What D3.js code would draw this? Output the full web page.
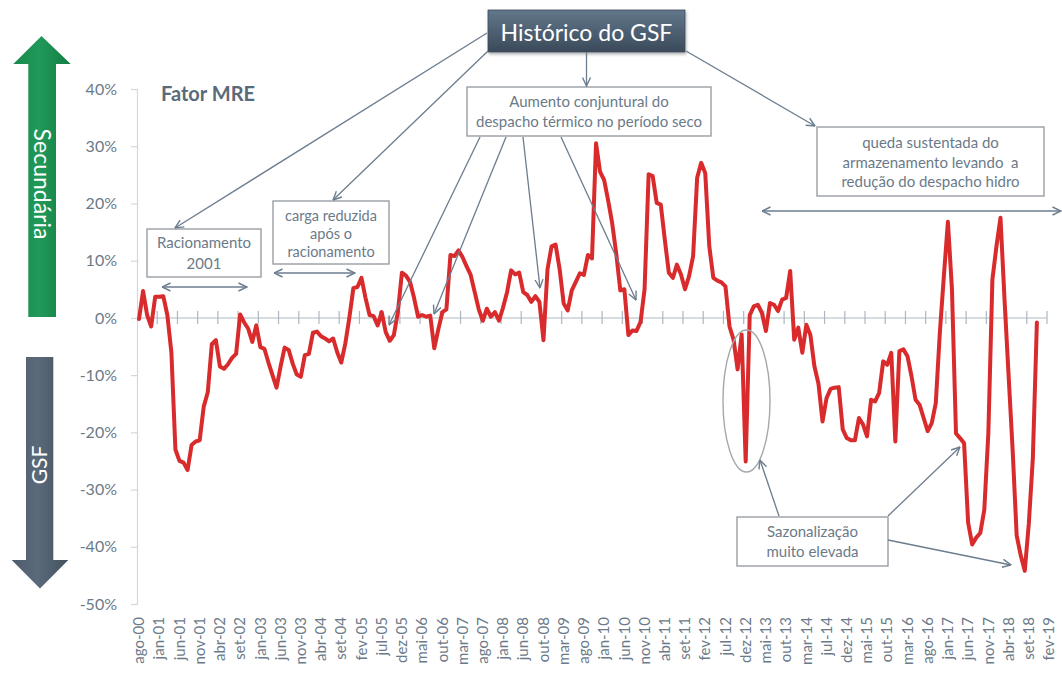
<!DOCTYPE html>
<html>
<head>
<meta charset="utf-8">
<script src="https://cdn.jsdelivr.net/npm/d3@7"></script>
<style>
  html, body { margin: 0; padding: 0; background: #fff; }
  svg { display: block; font-family: Lato, "Open Sans", sans-serif; }
</style>
</head>
<body>
<svg id="chart" width="1062" height="673"></svg>
<script>
// Category tick labels (one every five points)
const tickLabels = ["ago-00","jan-01","jun-01","nov-01","abr-02","set-02","jan-03","jun-03","nov-03","abr-04",
  "set-04","fev-05","jul-05","dez-05","mai-06","out-06","mar-07","ago-07","jan-08","jun-08",
  "out-08","mar-09","ago-09","jan-10","jun-10","nov-10","abr-11","set-11","fev-12","jul-12",
  "dez-12","mai-13","out-13","mar-14","jul-14","dez-14","mai-15","out-15","mar-16","ago-16",
  "jan-17","jun-17","nov-17","abr-18","set-18","fev-19"];

// Y axis ticks (%)
const yTicks = [40, 30, 20, 10, 0, -10, -20, -30, -40, -50];

// Fator MRE, monthly (%)
const fatorMRE = [
  -0.2, 4.7, 0.5, -1.5, 3.7, 3.7, 3.8, 0.5, -6.0, -23.0,
  -25.0, -25.3, -26.6, -22.2, -21.6, -21.4, -15.5, -13.0, -4.6, -3.9,
  -8.5, -8.9, -8.1, -7.0, -6.3, 0.6, -0.8, -1.9, -4.2, -1.3,
  -5.1, -5.4, -7.8, -10.0, -12.2, -8.5, -5.2, -5.6, -8.0, -9.9,
  -10.3, -6.5, -6.3, -2.6, -2.4, -3.2, -3.6, -4.1, -3.6, -6.0,
  -7.8, -4.5, 0.0, 5.2, 5.4, 7.0, 3.5, 0.5, 0.3, -1.3,
  1.0, -2.5, -4.0, -3.0, 1.0, 7.9, 7.4, 6.3, 3.5, 0.2,
  0.5, 0.2, 0.4, -5.3, -2.0, 1.0, 1.5, 11.0, 10.8, 11.8,
  10.6, 9.0, 7.5, 4.5, 1.5, -0.5, 1.6, 0.2, 1.0, -0.5,
  1.8, 4.5, 8.3, 7.6, 7.9, 4.5, 4.0, 2.8, 3.8, 2.8,
  -3.9, 8.5, 12.5, 12.8, 8.5, 2.5, 1.3, 4.8, 6.3, 7.8,
  7.5, 11.0, 10.4, 30.5, 25.5, 24.1, 20.5, 16.5, 11.2, 4.8,
  5.0, -3.0, -2.2, -2.3, -0.7, 5.0, 25.1, 24.8, 20.1, 19.8,
  13.7, 7.9, 7.0, 9.3, 7.6, 5.0, 7.3, 10.8, 24.5, 27.1,
  25.3, 12.5, 7.0, 6.5, 6.2, 5.5, -1.5, -3.8, -9.0, -2.9,
  -25.1, 0.5, 2.0, 2.3, 0.9, -2.3, 2.6, 2.3, 1.2, 3.2,
  3.5, 8.2, -3.8, -1.7, -6.1, -1.2, -3.0, -8.5, -11.5, -18.1,
  -14.0, -12.4, -12.2, -12.1, -19.5, -21.0, -21.4, -21.4, -17.5, -18.6,
  -20.7, -14.3, -14.6, -13.1, -7.6, -8.2, -6.1, -21.6, -5.8, -5.5,
  -6.7, -10.2, -14.3, -15.2, -17.5, -19.8, -18.4, -14.9, -2.6, 7.3,
  16.8, 5.0, -20.2, -21.0, -21.9, -35.8, -39.6, -38.4, -37.6, -33.5,
  -20.1, 6.7, 12.5, 17.5, 3.2, -10.0, -23.0, -38.0, -41.5, -44.2,
  -36.0, -24.5, -0.8
];

const nCategories = 225;
const labelStep = 5;

const svg = d3.select("#chart");
const textColor = "#6b7a89";
const arrowColor = "#6c7d8e";

// ---------- defs ----------
const defs = svg.append("defs");

const gGreen = defs.append("linearGradient").attr("id", "gGreen").attr("x1", 0).attr("x2", 1).attr("y1", 0).attr("y2", 0);
gGreen.append("stop").attr("offset", "0%").attr("stop-color", "#178a49");
gGreen.append("stop").attr("offset", "45%").attr("stop-color", "#20995a");
gGreen.append("stop").attr("offset", "100%").attr("stop-color", "#137d41");

const gSlate = defs.append("linearGradient").attr("id", "gSlate").attr("x1", 0).attr("x2", 1).attr("y1", 0).attr("y2", 0);
gSlate.append("stop").attr("offset", "0%").attr("stop-color", "#4d5d6c");
gSlate.append("stop").attr("offset", "45%").attr("stop-color", "#5a6a7a");
gSlate.append("stop").attr("offset", "100%").attr("stop-color", "#44525f");

const gTitle = defs.append("linearGradient").attr("id", "gTitle").attr("x1", 0).attr("x2", 0).attr("y1", 0).attr("y2", 1);
gTitle.append("stop").attr("offset", "0%").attr("stop-color", "#62778b");
gTitle.append("stop").attr("offset", "100%").attr("stop-color", "#3a4a5a");

const shadow = defs.append("filter").attr("id", "shadow").attr("x", "-10%").attr("y", "-20%").attr("width", "130%").attr("height", "160%");
shadow.append("feDropShadow").attr("dx", 1).attr("dy", 2).attr("stdDeviation", 1.5).attr("flood-color", "#000").attr("flood-opacity", 0.3);

defs.append("marker")
  .attr("id", "openHead")
  .attr("viewBox", "0 0 10 10")
  .attr("refX", 9.5).attr("refY", 5)
  .attr("markerWidth", 10).attr("markerHeight", 10)
  .attr("markerUnits", "userSpaceOnUse")
  .attr("orient", "auto-start-reverse")
  .append("path")
  .attr("d", "M1,1 L9.5,5 L1,9")
  .attr("fill", "none")
  .attr("stroke", arrowColor)
  .attr("stroke-width", 1.4);

// ---------- scales ----------
const x = d3.scaleLinear().domain([-0.5, nCategories - 0.5]).range([137, 1047]);
const y = d3.scaleLinear().domain([-50, 40]).range([604, 89]);

// ---------- side arrows ----------
svg.append("path")
  .attr("d", "M41.5,36 L70.7,64 L56,64 L56,317 L28.3,317 L28.3,64 L13.3,64 Z")
  .attr("fill", "url(#gGreen)");
svg.append("text")
  .attr("transform", "translate(42,184) rotate(90)")
  .attr("text-anchor", "middle").attr("dy", "0.35em")
  .attr("fill", "#fff").attr("font-size", 23)
  .text("Secundária");

svg.append("path")
  .attr("d", "M26,357 L53.3,357 L53.3,560 L68.3,560 L40,588.5 L11.7,560 L26,560 Z")
  .attr("fill", "url(#gSlate)");
svg.append("text")
  .attr("transform", "translate(39.5,465) rotate(-90)")
  .attr("text-anchor", "middle").attr("dy", "0.35em")
  .attr("fill", "#fff").attr("font-size", 21)
  .text("GSF");

// ---------- y axis ----------
const yAxis = svg.append("g")
  .attr("transform", `translate(${x.range()[0]},0)`)
  .call(d3.axisLeft(y).tickValues(yTicks).tickSize(6).tickPadding(14).tickFormat(d => d + "%"));
yAxis.select(".domain").attr("stroke", "#d4d8dc").attr("stroke-width", 1.2);
yAxis.selectAll(".tick line").attr("stroke", "#d4d8dc").attr("stroke-width", 1.2);
yAxis.selectAll(".tick text")
  .attr("fill", textColor).attr("font-size", 16)
  .attr("font-family", "Lato, 'Open Sans', sans-serif");

// ---------- x axis (drawn on the 0% line) ----------
const xAxisG = svg.append("g");
xAxisG.append("line")
  .attr("x1", x.range()[0]).attr("x2", x.range()[1])
  .attr("y1", y(0)).attr("y2", y(0))
  .attr("stroke", "#c9d0d6").attr("stroke-width", 1.5);

const tickBounds = d3.range(1, tickLabels.length).map(k => k * labelStep - 0.5);
xAxisG.selectAll("line.xtick")
  .data(tickBounds)
  .join("line")
  .attr("class", "xtick")
  .attr("x1", d => x(d)).attr("x2", d => x(d))
  .attr("y1", y(0) - 7).attr("y2", y(0) + 6)
  .attr("stroke", "#aeb7c0").attr("stroke-width", 1.2);

svg.append("g").selectAll("text")
  .data(tickLabels)
  .join("text")
  .attr("transform", (d, k) => `translate(${x(k * labelStep)},617) rotate(-90)`)
  .attr("text-anchor", "end")
  .attr("dy", "0.35em")
  .attr("fill", textColor)
  .attr("font-size", 15)
  .text(d => d);

// ---------- series ----------
const line = d3.line()
  .x((d, i) => x(i))
  .y(d => y(d));

svg.append("path")
  .datum(fatorMRE)
  .attr("d", line)
  .attr("fill", "none")
  .attr("stroke", "#d92a2c")
  .attr("stroke-width", 4)
  .attr("stroke-linejoin", "round")
  .attr("stroke-linecap", "round");

// ---------- titles ----------
svg.append("text")
  .attr("x", 161).attr("y", 101)
  .attr("fill", "#5a6a7a")
  .attr("font-size", 20).attr("font-weight", "bold")
  .text("Fator MRE");

svg.append("rect")
  .attr("x", 488).attr("y", 10).attr("width", 197).attr("height", 42)
  .attr("fill", "url(#gTitle)")
  .attr("stroke", "#3d4c5b").attr("stroke-width", 0.8)
  .attr("filter", "url(#shadow)");
svg.append("text")
  .attr("x", 586.5).attr("y", 41)
  .attr("text-anchor", "middle")
  .attr("fill", "#fff").attr("font-size", 23)
  .text("Histórico do GSF");

// ---------- annotation boxes ----------
const boxes = [
  { x: 147, y: 229, w: 114, h: 48, lines: ["Racionamento", "2001"], y0: 248, dy: 21, fs: 15 },
  { x: 273, y: 201, w: 116, h: 63, lines: ["carga reduzida", "após o", "racionamento"], y0: 221, dy: 18, fs: 14.5 },
  { x: 467, y: 87, w: 244, h: 49, lines: ["Aumento conjuntural do", "despacho térmico no período seco"], y0: 106.5, dy: 20, fs: 15 },
  { x: 817, y: 127, w: 227, h: 69, lines: ["queda sustentada do", "armazenamento levando  a", "redução do despacho hidro"], y0: 148, dy: 19.5, fs: 15 },
  { x: 737, y: 517, w: 151, h: 49, lines: ["Sazonalização", "muito elevada"], y0: 536.5, dy: 20, fs: 15 }
];
const boxG = svg.append("g");
boxes.forEach(b => {
  boxG.append("rect")
    .attr("x", b.x).attr("y", b.y).attr("width", b.w).attr("height", b.h)
    .attr("fill", "#fff").attr("stroke", "#999fa5").attr("stroke-width", 1.4);
  boxG.append("text")
    .attr("text-anchor", "middle")
    .attr("fill", textColor)
    .attr("font-size", b.fs)
    .attr("xml:space", "preserve")
    .style("white-space", "pre")
    .selectAll("tspan")
    .data(b.lines)
    .join("tspan")
    .attr("x", b.x + b.w / 2)
    .attr("y", (d, i) => b.y0 + i * b.dy)
    .text(d => d);
});

// ellipse around the Dec-12 dip
svg.append("ellipse")
  .attr("cx", 746.5).attr("cy", 401).attr("rx", 23.5).attr("ry", 71)
  .attr("fill", "none").attr("stroke", "#a3a8ad").attr("stroke-width", 1.4);

// ---------- leader arrows ----------
const leaders = [
  [[487, 33], [175, 228]],
  [[488, 51], [333, 200]],
  [[586.5, 52], [586.5, 86]],
  [[686, 51], [815, 126]],
  [[480, 137], [389, 325]],
  [[506, 137], [434, 314]],
  [[523, 137], [540, 288]],
  [[561, 137], [636, 300]],
  [[779, 516], [760, 460]],
  [[888, 516], [960, 447]],
  [[888, 540], [1011, 565]]
];
svg.append("g").selectAll("line")
  .data(leaders)
  .join("line")
  .attr("x1", d => d[0][0]).attr("y1", d => d[0][1])
  .attr("x2", d => d[1][0]).attr("y2", d => d[1][1])
  .attr("stroke", arrowColor).attr("stroke-width", 1.3)
  .attr("marker-end", "url(#openHead)");

// double-headed span arrows
const spans = [
  [162, 247, 287],
  [274, 355, 273],
  [762, 1061, 211]
];
svg.append("g").selectAll("line")
  .data(spans)
  .join("line")
  .attr("x1", d => d[0]).attr("x2", d => d[1])
  .attr("y1", d => d[2]).attr("y2", d => d[2])
  .attr("stroke", arrowColor).attr("stroke-width", 1.3)
  .attr("marker-start", "url(#openHead)")
  .attr("marker-end", "url(#openHead)");
</script>
</body>
</html>
